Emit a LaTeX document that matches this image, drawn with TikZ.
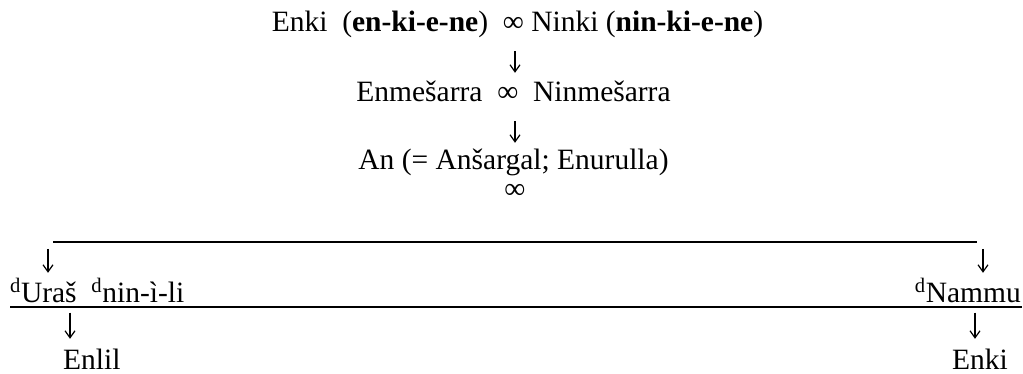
\documentclass[tikz,border=0pt]{standalone}
\usepackage{fontspec}
\setmainfont{Liberation Serif}
\usetikzlibrary{arrows.meta}
\begin{document}
\begin{tikzpicture}[x=1pt,y=-1pt,
  txt/.style={inner sep=0pt,text height=21pt,text depth=7pt,font=\fontsize{29.5}{35}\selectfont},
  down/.style={-{Straight Barb[length=7pt,width=10pt,line width=1.2pt]},line width=1.2pt},
  rule/.style={line width=1.3pt}]
\useasboundingbox (0,0) rectangle (1023,374);
% genealogy column
\coordinate (col) at (515,0);
\node[txt,anchor=base] (l1) at (517.5,32)
  {Enki\ \ (\textbf{en-ki-e-ne})\ \ ∞ Ninki (\textbf{nin-ki-e-ne})};
\node[txt,anchor=base] (l2) at (513.5,102) {Enmešarra\ \ ∞\ \ Ninmešarra};
\node[txt,anchor=base] (l3) at (513.5,170) {An (= Anšargal; Enurulla)};
\node[txt,anchor=base] (inf) at (515,199) {∞};
\draw[down,shorten <=12pt,shorten >=8pt] (l1.south -| col) -- (l2.north -| col);
\draw[down,shorten <=12pt,shorten >=6pt] (l2.south -| col) -- (l3.north -| col);
% offspring bracket
\coordinate (ra) at (53,242);
\coordinate (rb) at (977,242);
\draw[rule] (ra) -- (rb);
\node[txt,anchor=base west] (uras) at (10,302) {\textsuperscript{d}Uraš\ \ \textsuperscript{d}nin-ì-li};
\node[txt,anchor=base east] (nammu) at (1021,302) {\textsuperscript{d}Nammu};
\coordinate (ua) at (48,249);
\coordinate (ub) at (983,249);
\draw[down,shorten >=8pt] (ua) -- (ua |- uras.north);
\draw[down,shorten >=8pt] (ub) -- (ub |- nammu.north);
\draw[line width=2pt] (10,306.7) -- (1022,306.7);
\node[txt,anchor=base west] (enlil) at (63,369) {Enlil};
\node[txt,anchor=base east] (enki) at (1008,369) {Enki};
\coordinate (ea) at (70,306.7);
\coordinate (eb) at (975,306.7);
\draw[down,shorten <=6pt,shorten >=9pt] (ea) -- (ea |- enlil.north);
\draw[down,shorten <=6pt,shorten >=9pt] (eb) -- (eb |- enki.north);
\end{tikzpicture}
\end{document}
